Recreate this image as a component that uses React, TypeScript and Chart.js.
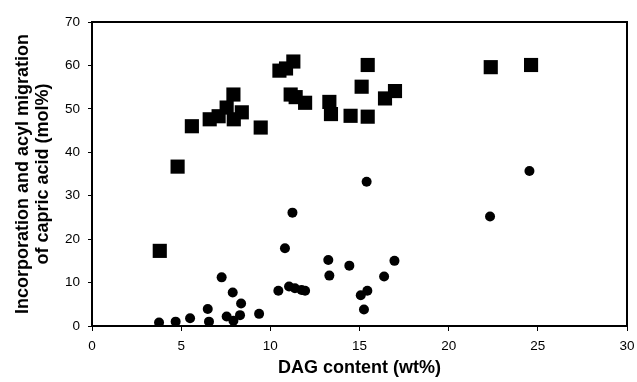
import React, { useEffect, useRef } from "react";
import { Chart, registerables } from "chart.js";

Chart.register(...registerables);

const xTicks = [0, 5, 10, 15, 20, 25, 30];
const yTicks = [0, 10, 20, 30, 40, 50, 60, 70];

// Incorporation (squares)
const incorpX = [3.8, 4.8, 5.6, 6.6, 7.1, 7.55, 7.93, 7.95, 8.4, 9.46, 10.51, 10.88, 11.29, 11.14, 11.42, 11.95, 13.31, 13.4, 14.5, 15.46, 15.12, 15.46, 16.43, 16.99, 22.36, 24.62];
const incorpY = [17.3, 36.7, 46.0, 47.6, 48.3, 50.3, 53.3, 47.6, 49.2, 45.7, 58.8, 59.3, 60.9, 53.3, 52.7, 51.4, 51.6, 48.8, 48.4, 48.2, 55.1, 60.1, 52.4, 54.1, 59.6, 60.1];

// Acyl migration (circles)
const migX = [3.76, 4.69, 5.5, 6.49, 6.56, 7.27, 7.55, 7.89, 7.93, 8.36, 8.3, 9.37, 10.45, 10.82, 11.24, 11.05, 11.38, 11.75, 11.95, 13.25, 13.31, 14.43, 15.4, 15.07, 15.44, 15.25, 16.38, 16.96, 22.32, 24.53];
const migY = [0.8, 1.0, 1.8, 3.9, 1.0, 11.2, 2.2, 7.7, 1.2, 5.2, 2.5, 2.8, 8.1, 17.9, 26.1, 9.1, 8.7, 8.3, 8.1, 15.2, 11.6, 13.9, 33.2, 7.1, 8.1, 3.8, 11.4, 15.0, 25.2, 35.7];

const xTitle = "DAG content (wt%)";
const yTitle = ["Incorporation and acyl migration", "of capric acid (mol%)"];

const framePlugin = {
  id: "frame",
  afterDraw(chart: any) {
    const { ctx, chartArea } = chart;
    ctx.save();
    ctx.strokeStyle = "#000";
    ctx.lineWidth = 2;
    ctx.strokeRect(chartArea.left, chartArea.top, chartArea.right - chartArea.left, chartArea.bottom - chartArea.top);
    ctx.restore();
  },
};

export default function App() {
  const ref = useRef<HTMLCanvasElement>(null);
  useEffect(() => {
    document.body.style.margin = "0";
    const chart = new Chart(ref.current!, {
      type: "scatter",
      data: {
        datasets: [
          {
            label: "Incorporation",
            data: incorpX.map((x, i) => ({ x, y: incorpY[i] })),
            pointStyle: "rect",
            pointRadius: 10,
            pointBorderWidth: 0,
            backgroundColor: "#000",
            borderColor: "#000",
          },
          {
            label: "Acyl migration",
            data: migX.map((x, i) => ({ x, y: migY[i] })),
            pointStyle: "circle",
            pointRadius: 5,
            pointBorderWidth: 0,
            backgroundColor: "#000",
            borderColor: "#000",
          },
        ],
      },
      options: {
        responsive: false,
        animation: false,
        layout: { padding: { top: 22, right: 10, left: 0, bottom: 0 } },
        plugins: { legend: { display: false }, tooltip: { enabled: false } },
        scales: {
          x: {
            type: "linear",
            min: 0,
            max: 30,
            afterBuildTicks: (s: any) => { s.ticks = xTicks.map((v) => ({ value: v })); },
            afterFit: (s: any) => { s.height = 56; s.paddingLeft = 0; s.paddingRight = 0; },
            grid: { display: true, drawOnChartArea: false, drawTicks: true, tickLength: 5, color: "#000" },
            border: { display: true, color: "#000", width: 2 },
            ticks: { color: "#000", padding: 7, font: { family: "Liberation Sans", size: 13.5 } },
            title: {
              display: true,
              text: xTitle,
              color: "#000",
              font: { family: "Liberation Sans", size: 18, weight: "bold", lineHeight: 1.2 },
              padding: { top: 0, bottom: 3 },
            },
          },
          y: {
            type: "linear",
            min: 0,
            max: 70,
            afterBuildTicks: (s: any) => { s.ticks = yTicks.map((v) => ({ value: v })); },
            afterFit: (s: any) => { s.width = 92; s.paddingTop = 0; s.paddingBottom = 0; },
            grid: { display: true, drawOnChartArea: false, drawTicks: true, tickLength: 4, color: "#000" },
            border: { display: true, color: "#000", width: 2 },
            ticks: { color: "#000", padding: 8, font: { family: "Liberation Sans", size: 13.5 } },
            title: {
              display: true,
              text: yTitle,
              color: "#000",
              font: { family: "Liberation Sans", size: 18, weight: "bold", lineHeight: 1.1 },
              padding: { top: 13, bottom: 0 },
            },
          },
        },
      },
      plugins: [framePlugin],
    } as any);
    return () => chart.destroy();
  }, []);
  return <canvas ref={ref} width={637} height={382} />;
}
